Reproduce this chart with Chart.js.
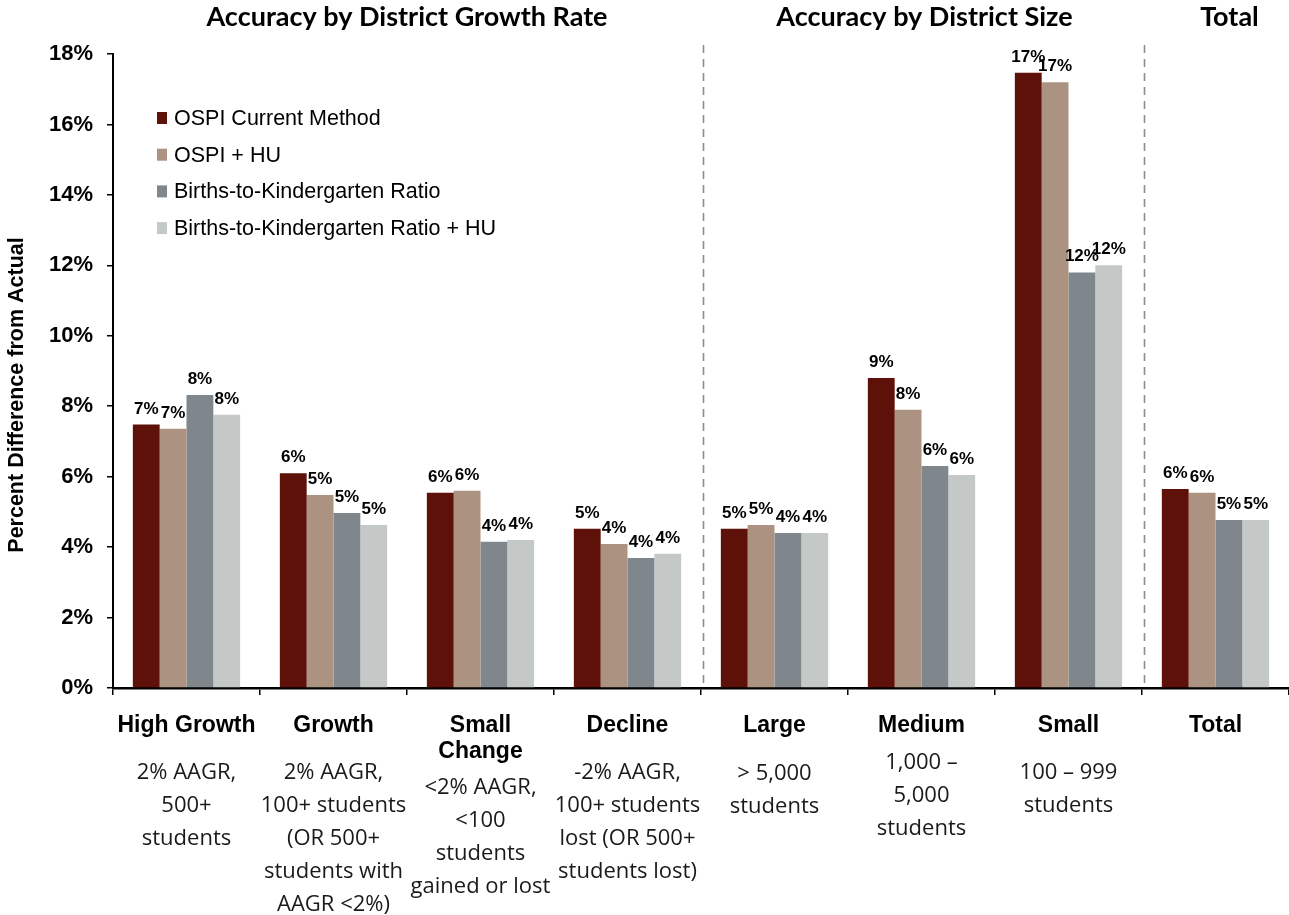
<!DOCTYPE html>
<html>
<head>
<meta charset="utf-8">
<script src="https://cdn.jsdelivr.net/npm/chart.js@4.4.0/dist/chart.umd.min.js"></script>
<style>
html,body{margin:0;padding:0;background:#ffffff;}
#wrap{width:1289px;height:915px;position:relative;}
</style>
</head>
<body>
<div id="wrap"><canvas id="c" width="1289" height="915"></canvas></div>
<script>
// ---------- DATA ----------
const categories = ["High Growth","Growth","Small Change","Decline","Large","Medium","Small","Total"];
const categoryNames = [["High Growth"],["Growth"],["Small","Change"],["Decline"],["Large"],["Medium"],["Small"],["Total"]];
const categoryNotes = [
  ["2% AAGR,","500+","students"],
  ["2% AAGR,","100+ students","(OR 500+","students with","AAGR <2%)"],
  ["<2% AAGR,","<100","students","gained or lost"],
  ["-2% AAGR,","100+ students","lost (OR 500+","students lost)"],
  ["> 5,000","students"],
  ["1,000 \u2013","5,000","students"],
  ["100 \u2013 999","students"],
  []
];
const seriesNames = ["OSPI Current Method","OSPI + HU","Births-to-Kindergarten Ratio","Births-to-Kindergarten Ratio + HU"];
const ospiCurrent = [7.48, 6.10, 5.54, 4.52, 4.52, 8.80, 17.47, 5.65];
const ospiHU      = [7.36, 5.48, 5.60, 4.09, 4.63, 7.90, 17.20, 5.54];
const btkRatio    = [8.32, 4.97, 4.15, 3.69, 4.40, 6.30, 11.80, 4.77];
const btkRatioHU  = [7.76, 4.63, 4.20, 3.81, 4.40, 6.05, 12.00, 4.77];
const yTickValues = [0,2,4,6,8,10,12,14,16,18];
const yTitle = "Percent Difference from Actual";
const sectionTitles = ["Accuracy by District Growth Rate","Accuracy by District Size","Total"];
const sectionRanges = [[0,3],[4,6],[7,7]];

// ---------- STYLE / LAYOUT ----------
const seriesColors = ["#5D1109","#AC9381","#7F878D","#C4C9C8"];
const noteTop = [85, 85, 100, 85, 86, 75, 85, 85];   // px below axis for first note line
const sectionTitleShift = [0, 3, 14];
const SANS = '"Liberation Sans", Arial, sans-serif';
const NOTE = '"Open Sans", sans-serif';
const TITLE = 'Lato, "Open Sans", sans-serif';

const seriesData = [ospiCurrent, ospiHU, btkRatio, btkRatioHU];

const decorPlugin = {
  id: 'decor',
  beforeDatasetsDraw(chart) {
    const {ctx, chartArea, scales} = chart;
    const x = scales.x;
    ctx.save();
    ctx.strokeStyle = '#8c8c8c';
    ctx.lineWidth = 1.6;
    ctx.setLineDash([8,6]);
    for (let s = 0; s < sectionRanges.length - 1; s++) {
      const a = sectionRanges[s][1], b = sectionRanges[s+1][0];
      const px = Math.round((x.getPixelForValue(a) + x.getPixelForValue(b)) / 2) + 2.5;
      ctx.beginPath();
      ctx.moveTo(px, 45);
      ctx.lineTo(px, chartArea.bottom);
      ctx.stroke();
    }
    ctx.restore();
  },
  afterDatasetsDraw(chart) {
    const {ctx, chartArea, scales} = chart;
    const x = scales.x;
    ctx.save();
    // data labels
    ctx.fillStyle = '#000';
    ctx.font = 'bold 17px ' + SANS;
    ctx.textAlign = 'center';
    ctx.textBaseline = 'alphabetic';
    chart.data.datasets.forEach((ds, di) => {
      const meta = chart.getDatasetMeta(di);
      meta.data.forEach((el, i) => {
        ctx.fillText(Math.round(ds.data[i]) + '%', el.x, el.y - 11);
      });
    });
    // section titles
    ctx.font = 'bold 27px ' + TITLE;
    ctx.textBaseline = 'middle';
    sectionTitles.forEach((t, s) => {
      const [a, b] = sectionRanges[s];
      const half = (x.getPixelForValue(1) - x.getPixelForValue(0)) / 2;
      const left = x.getPixelForValue(a) - half;
      const right = x.getPixelForValue(b) + half;
      ctx.fillText(t, (left + right) / 2 + sectionTitleShift[s], 17);
    });
    // category names and notes
    categories.forEach((c, i) => {
      const cx = x.getPixelForValue(i);
      ctx.fillStyle = '#000';
      ctx.font = 'bold 23px ' + SANS;
      categoryNames[i].forEach((line, k) => {
        ctx.fillText(line, cx, chartArea.bottom + 38 + k * 26);
      });
      ctx.fillStyle = '#1a1a1a';
      ctx.font = '22px ' + NOTE;
      categoryNotes[i].forEach((line, k) => {
        ctx.fillText(line, cx, chartArea.bottom + noteTop[i] + k * 33);
      });
    });
    // y axis title
    ctx.save();
    ctx.translate(17, 395);
    ctx.rotate(-Math.PI / 2);
    ctx.font = 'bold 21.5px ' + SANS;
    ctx.fillStyle = '#000';
    ctx.fillText(yTitle, 0, 0);
    ctx.restore();
    // legend
    ctx.textAlign = 'left';
    ctx.font = '21.5px ' + SANS;
    chart.data.datasets.forEach((ds, di) => {
      const ly = 118 + di * 36.7;
      const lx = chartArea.left + 44;
      ctx.fillStyle = ds.backgroundColor;
      ctx.fillRect(lx, ly - 6, 10, 12);
      ctx.fillStyle = '#000';
      ctx.fillText(ds.label, lx + 17, ly + 1);
    });
    ctx.restore();
  }
};

new Chart(document.getElementById('c'), {
  type: 'bar',
  data: {
    labels: categories,
    datasets: seriesNames.map((n, i) => ({
      label: n,
      data: seriesData[i],
      backgroundColor: seriesColors[i],
      borderWidth: 0,
      categoryPercentage: 0.73,
      barPercentage: 1.0
    }))
  },
  options: {
    responsive: false,
    animation: false,
    devicePixelRatio: 1,
    layout: { padding: { top: 54, right: 0, bottom: 0, left: 0 } },
    plugins: { legend: { display: false }, tooltip: { enabled: false } },
    scales: {
      x: {
        afterFit: s => { s.height = 227; },
        ticks: { display: false },
        grid: { display: true, drawOnChartArea: false, drawTicks: true, tickLength: 7, color: '#000', lineWidth: 1.5, offset: true },
        border: { display: true, color: '#000', width: 2.5 }
      },
      y: {
        min: 0, max: 18,
        afterFit: s => { s.width = 113; },
        afterBuildTicks: s => { s.ticks = yTickValues.map(v => ({ value: v })); },
        ticks: {
          callback: v => v + '%',
          font: { family: SANS, size: 22, weight: 'bold' },
          color: '#000',
          padding: 14
        },
        grid: { display: true, drawOnChartArea: false, drawTicks: true, tickLength: 6, color: '#000', lineWidth: 1.5 },
        border: { display: true, color: '#000', width: 2 },
        title: { display: false }
      }
    }
  },
  plugins: [decorPlugin]
});
</script>
</body>
</html>
